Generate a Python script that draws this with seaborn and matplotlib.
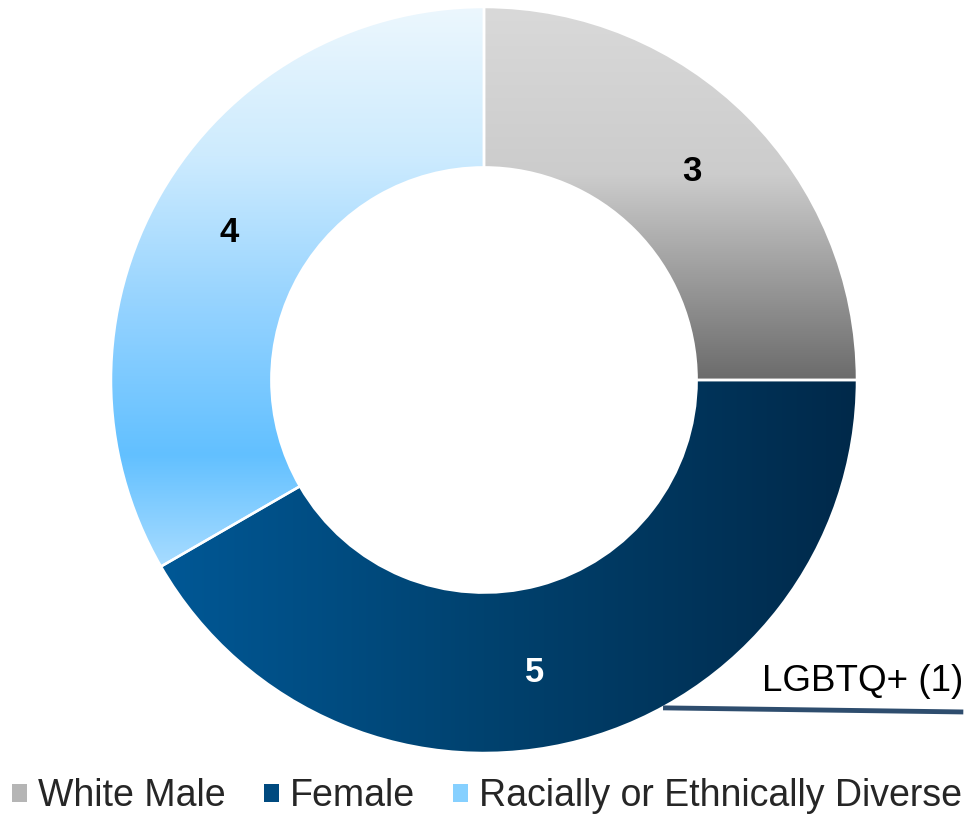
import numpy as np
import matplotlib.pyplot as plt
import seaborn as sns
from matplotlib.colors import to_rgb
from matplotlib.patches import Patch

# Board composition
categories = ["White Male", "Female", "Racially or Ethnically Diverse"]
counts = [3, 5, 4]
note_text = "LGBTQ+ (1)"

# gradient stops per wedge: (position, colour), vertical or horizontal
grad_stops = [
    ([(-1.0, "#6b6b6b"), (0.0, "#6b6b6b"), (0.55, "#cccccc"), (1.0, "#d9d9d9")], True),
    ([(-1.0, "#005896"), (-0.87, "#005896"), (0.0, "#00426f"), (1.0, "#00294a")], False),
    ([(-1.0, "#a8dcff"), (-0.5, "#a8dcff"), (-0.2, "#62c0ff"), (0.2, "#95d3ff"),
      (0.6, "#cdebfe"), (1.0, "#ecf7fd")], True),
]
legend_colors = ["#b5b5b5", "#004a7f", "#86d0ff"]
label_colors = ["black", "white", "black"]

sns.set_theme(style="white")
plt.rcParams['font.family'] = ['Liberation Sans', 'DejaVu Sans']


def gradient(stops, vertical, n=500):
    pos = np.linspace(-1, 1, n)
    xs = [s[0] for s in stops]
    rgb = np.array([to_rgb(s[1]) for s in stops])
    cols = np.stack([np.interp(pos, xs, rgb[:, i]) for i in range(3)], axis=-1)
    return cols[:, None, :] if vertical else cols[None, :, :]


fig = plt.figure(figsize=(9.74, 8.16), dpi=100)
ax = fig.add_axes([111 / 974, 63 / 816, 746 / 974, 746 / 816])

wedges, texts, autotexts = ax.pie(
    counts, startangle=90, counterclock=False,
    wedgeprops=dict(width=0.43, edgecolor="white", linewidth=1.8, facecolor="none", zorder=3),
    autopct=lambda p: f"{p * sum(counts) / 100:.0f}", pctdistance=0.79,
    textprops=dict(fontsize=25, fontweight="bold"))

for w, (stops, vert), tc, t in zip(wedges, grad_stops, label_colors, autotexts):
    im = ax.imshow(gradient(stops, vert), extent=[-1, 1, -1, 1], origin="lower",
                   aspect="auto", interpolation="bilinear", zorder=1)
    im.set_clip_path(w)
    t.set_color(tc)
    t.set_zorder(5)

# the "5" sits a bit left of the wedge middle in the original
x5, y5 = autotexts[1].get_position()
autotexts[1].set_position((x5 - 0.07, y5 - 0.02))

# LGBTQ+ callout
ax.plot([0.48, 1.285], [-0.879, -0.89], color="#2e4d6e", lw=3.5,
        solid_capstyle="butt", clip_on=False, zorder=4)
ax.text(1.285, -0.855, note_text, ha="right", va="bottom", fontsize=26.5, color="black")

ax.set_xlim(-1, 1)
ax.set_ylim(-1, 1)
ax.set_aspect("equal")
ax.axis("off")

handles = [Patch(facecolor=c, edgecolor="none", label=l) for c, l in zip(legend_colors, categories)]
fig.legend(handles=handles, loc="center", bbox_to_anchor=(0.5, 0.024), ncol=3,
           frameon=False, fontsize=27, handlelength=0.4, handleheight=0.4,
           handletextpad=0.3, columnspacing=1.0, borderaxespad=0)

fig.savefig("out.png", dpi=100)
